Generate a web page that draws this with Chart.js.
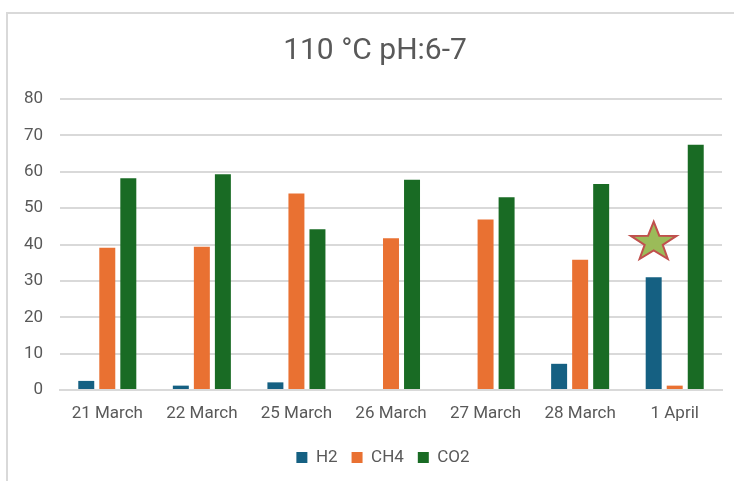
<!DOCTYPE html>
<html>
<head>
<meta charset="utf-8">
<script src="https://cdn.jsdelivr.net/npm/chart.js@4.4.1/dist/chart.umd.min.js"></script>
<style>
  html, body { margin: 0; padding: 0; background: #ffffff; }
  #wrap { position: relative; width: 734px; height: 481px; }
  #frame { position: absolute; left: 6px; top: 12px; right: -4px; bottom: -4px; border-left: 2px solid #d9d9d9; border-top: 2px solid #d9d9d9; pointer-events: none; }
  canvas { position: absolute; left: 0; top: 0; }
</style>
</head>
<body>
<div id="wrap">
  <canvas id="c" width="734" height="481"></canvas>
  <div id="frame"></div>
</div>
<script>
const categories = ["21 March", "22 March", "25 March", "26 March", "27 March", "28 March", "1 April"];
const h2Values  = [2.5, 1.2, 2.1, 0, 0, 7.2, 31.0];
const ch4Values = [39.1, 39.4, 54.0, 41.7, 46.9, 35.8, 1.2];
const co2Values = [58.2, 59.3, 44.2, 57.8, 53.0, 56.6, 67.4];
const yTicks = [0, 10, 20, 30, 40, 50, 60, 70, 80];
const starCategoryIndex = 6;
const starValue = 40.6;
const titleText = "110 °C pH:6-7";

const FONT = "Roboto";
const GREY = "#595959";

const starPlugin = {
  id: "starMarker",
  afterDatasetsDraw(chart) {
    const meta = chart.getDatasetMeta(0);
    const bar = meta.data[starCategoryIndex];
    if (!bar) return;
    const x = bar.x;
    const y = chart.scales.y.getPixelForValue(starValue);
    const ctx = chart.ctx;
    const R = 24, r = 9.5, sy = 0.86;
    ctx.save();
    ctx.beginPath();
    for (let i = 0; i < 10; i++) {
      const ang = -Math.PI / 2 + i * Math.PI / 5;
      const rad = i % 2 === 0 ? R : r;
      const px = x + rad * Math.cos(ang);
      const py = y + rad * Math.sin(ang) * sy;
      if (i === 0) ctx.moveTo(px, py); else ctx.lineTo(px, py);
    }
    ctx.closePath();
    ctx.fillStyle = "#9bbb59";
    ctx.fill();
    ctx.lineWidth = 2;
    ctx.strokeStyle = "#c0504d";
    ctx.stroke();
    ctx.restore();
  }
};

const boxShift = {
  id: "boxShift",
  afterLayout(chart) {
    const lg = chart.legend;
    if (lg) { lg.left += 22; lg.right += 22; }
    const tt = chart.titleBlock;
    if (tt) { tt.left += 14; tt.right += 14; }
  }
};

new Chart(document.getElementById("c"), {
  type: "bar",
  data: {
    labels: categories,
    datasets: [
      { label: "H2",  data: h2Values,  backgroundColor: "#156082" },
      { label: "CH4", data: ch4Values, backgroundColor: "#e97132" },
      { label: "CO2", data: co2Values, backgroundColor: "#196b24" }
    ]
  },
  options: {
    responsive: false,
    animation: false,
    devicePixelRatio: 1,
    layout: { padding: { left: 0, right: 12, top: 0, bottom: 5 } },
    datasets: { bar: { categoryPercentage: 0.667, barPercentage: 0.76 } },
    scales: {
      x: {
        grid: { display: false, drawTicks: false },
        border: { display: true, color: "#d9d9d9", width: 2 },
        ticks: { color: GREY, font: { family: FONT, size: 17 }, padding: 14, maxRotation: 0 },
        afterFit(s) { s.height = 45; }
      },
      y: {
        min: 0, max: 80,
        afterBuildTicks(s) { s.ticks = yTicks.map(v => ({ value: v })); },
        grid: { color: "#d9d9d9", lineWidth: 2, drawTicks: false },
        border: { display: false },
        ticks: { color: GREY, font: { family: FONT, size: 17 }, padding: 17 },
        afterFit(s) { s.width = 60; }
      }
    },
    plugins: {
      title: {
        display: true, text: titleText, color: GREY,
        font: { family: FONT, size: 30, weight: "normal" },
        padding: { top: 33, bottom: 30 }
      },
      legend: {
        position: "bottom",
        labels: { color: GREY, font: { family: FONT, size: 17 }, boxWidth: 11, boxHeight: 11, padding: 14 }
      },
      tooltip: { enabled: false }
    }
  },
  plugins: [starPlugin, boxShift]
});
</script>
</body>
</html>
